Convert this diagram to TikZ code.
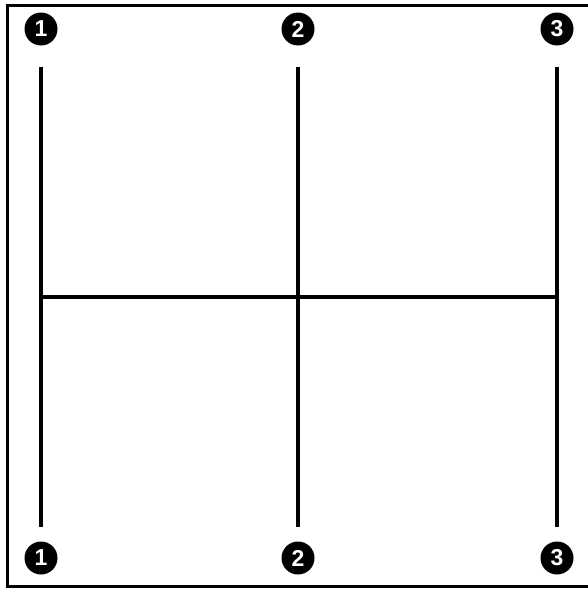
\documentclass[tikz,border=0pt]{standalone}
\usepackage{fontspec}
\setsansfont{Liberation Sans}
\usetikzlibrary{positioning}
\begin{document}
\begin{tikzpicture}[x=1pt,y=-1pt,
    badge/.style={circle,fill=black,text=white,inner sep=0pt,minimum size=33pt,font=\sffamily\bfseries\fontsize{23}{23}\selectfont},
    bar/.style={draw=black,line width=3.8pt}
  ]
  \useasboundingbox (0,0) rectangle (587,589);
  \draw[line width=3pt] (7,5) rectangle (600,586);
  % top row
  \node[badge] (top1) at (41,29) {1};
  \node[badge] (top2) at (298,29) {2};
  \node[badge] (top3) at (557,29) {3};
  % bottom row
  \node[badge] (bot1) at (41,558) {1};
  \node[badge] (bot2) at (298,558) {2};
  \node[badge] (bot3) at (557,558) {3};
  \coordinate (mid1) at (41,297);
  \coordinate (mid3) at (557,297);
  \foreach \i in {1,2,3}
    \draw[bar,shorten <=21pt,shorten >=14pt] (top\i) -- (bot\i);
  \draw[bar] (mid1) -- (mid3);
\end{tikzpicture}
\end{document}
